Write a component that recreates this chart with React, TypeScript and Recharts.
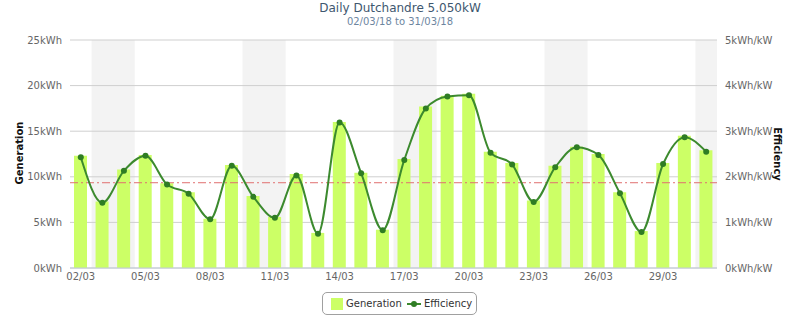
import React from 'react';
import {
  ComposedChart,
  Bar,
  Line,
  XAxis,
  YAxis,
  CartesianGrid,
  ReferenceArea,
  ReferenceLine,
} from 'recharts';

// days of March 2018
const days = [
  '02/03', '03/03', '04/03', '05/03', '06/03', '07/03', '08/03', '09/03', '10/03', '11/03',
  '12/03', '13/03', '14/03', '15/03', '16/03', '17/03', '18/03', '19/03', '20/03', '21/03',
  '22/03', '23/03', '24/03', '25/03', '26/03', '27/03', '28/03', '29/03', '30/03', '31/03',
];

// kWh per day
const generation = [
  12.3, 7.3, 10.8, 12.4, 9.3, 8.3, 5.4, 11.3, 7.9, 5.6,
  10.3, 3.85, 16.0, 10.45, 4.2, 11.95, 17.7, 18.9, 19.1, 12.75,
  11.5, 7.4, 11.2, 13.3, 12.5, 8.3, 4.05, 11.5, 14.5, 12.9,
];

// kWh/kW per day
const efficiency = [
  2.43, 1.43, 2.13, 2.46, 1.83, 1.63, 1.07, 2.24, 1.56, 1.1,
  2.03, 0.75, 3.19, 2.08, 0.83, 2.37, 3.5, 3.76, 3.79, 2.53,
  2.27, 1.45, 2.21, 2.65, 2.48, 1.64, 0.79, 2.28, 2.87, 2.55,
];

const weekends = [
  ['03/03', '04/03'],
  ['10/03', '11/03'],
  ['17/03', '18/03'],
  ['24/03', '25/03'],
  ['31/03', '31/03'],
];

const genTicks = [0, 5, 10, 15, 20, 25];
const effTicks = [0, 1, 2, 3, 4, 5];
const expectedGen = 9.35;

const data = days.map((day, i) => ({
  day,
  generation: generation[i],
  efficiency: efficiency[i],
}));

const font = '"DejaVu Sans", sans-serif';
const tickStyle = { fill: '#666', fontSize: 10, fontFamily: font };

export default function App() {
  return (
    <div style={{ position: 'absolute', left: 0, top: 0, width: 800, height: 316, background: '#fff' }}>
      <ComposedChart
        width={800}
        height={316}
        data={data}
        margin={{ top: 40, right: 0, bottom: 28, left: 0 }}
      >
        {weekends.map(([a, b]) => (
          <ReferenceArea
            key={a}
            x1={a}
            x2={b}
            yAxisId="left"
            fill="#f3f3f3"
            fillOpacity={1}
            stroke="none"
            zIndex={-200}
          />
        ))}
        <CartesianGrid vertical={false} stroke="#cfcfcf" yAxisId="left" />
        <XAxis
          dataKey="day"
          interval={2}
          height={20}
          tickLine={false}
          tickSize={0}
          tickMargin={5}
          axisLine={{ stroke: '#c0cad8' }}
          tick={tickStyle}
        />
        <YAxis
          yAxisId="left"
          width={70}
          domain={[0, 25]}
          ticks={genTicks}
          axisLine={false}
          tickLine={false}
          tick={tickStyle}
          tickFormatter={(v) => `${v}kWh`}
        />
        <YAxis
          yAxisId="right"
          orientation="right"
          width={83}
          domain={[0, 5]}
          ticks={effTicks}
          axisLine={false}
          tickLine={false}
          tick={{ ...tickStyle, textAnchor: 'start' }}
          tickFormatter={(v) => `${v}kWh/kW`}
        />
        <ReferenceLine
          y={expectedGen}
          yAxisId="left"
          stroke="#e07070"
          strokeDasharray="8 3 2 3"
        />
        <Bar
          dataKey="generation"
          yAxisId="left"
          fill="#ccff66"
          barSize={13}
          isAnimationActive={false}
        />
        <Line
          dataKey="efficiency"
          yAxisId="right"
          type="monotone"
          stroke="#3c8a2e"
          strokeWidth={2}
          dot={{ r: 3, fill: '#2f7d24', stroke: 'none' }}
          activeDot={false}
          isAnimationActive={false}
        />
      </ComposedChart>

      <svg
        width={800}
        height={316}
        style={{ position: 'absolute', left: 0, top: 0, pointerEvents: 'none' }}
      >
        <text x={400} y={12} textAnchor="middle" fontFamily={font} fontSize={12} fill="#3e576f">
          Daily Dutchandre 5.050kW
        </text>
        <text x={400} y={25} textAnchor="middle" fontFamily={font} fontSize={10} fill="#6d869f">
          02/03/18 to 31/03/18
        </text>
        <text
          x={23}
          y={153}
          transform="rotate(-90 23 153)"
          textAnchor="middle"
          fontFamily={font}
          fontSize={10}
          fontWeight="bold"
          fill="#111"
        >
          Generation
        </text>
        <text
          x={774}
          y={154}
          transform="rotate(90 774 154)"
          textAnchor="middle"
          fontFamily={font}
          fontSize={10}
          fontWeight="bold"
          fill="#111"
        >
          Efficiency
        </text>
      </svg>

      <div
        style={{
          position: 'absolute',
          left: 322,
          top: 292,
          width: 155,
          height: 23,
          boxSizing: 'border-box',
          border: '1px solid #a0a0a0',
          borderRadius: 5,
          fontFamily: font,
          fontSize: 10,
          color: '#333',
        }}
      >
        <span style={{ position: 'absolute', left: 8, top: 5, width: 12, height: 12, background: '#ccff66' }} />
        <span style={{ position: 'absolute', left: 23, top: 4, lineHeight: '13px' }}>Generation</span>
        <svg width={14} height={8} style={{ position: 'absolute', left: 84, top: 7 }}>
          <line x1={0} y1={4} x2={14} y2={4} stroke="#3c8a2e" strokeWidth={2} />
          <circle cx={7} cy={4} r={3} fill="#2f7d24" />
        </svg>
        <span style={{ position: 'absolute', left: 101, top: 4, lineHeight: '13px' }}>Efficiency</span>
      </div>
    </div>
  );
}
